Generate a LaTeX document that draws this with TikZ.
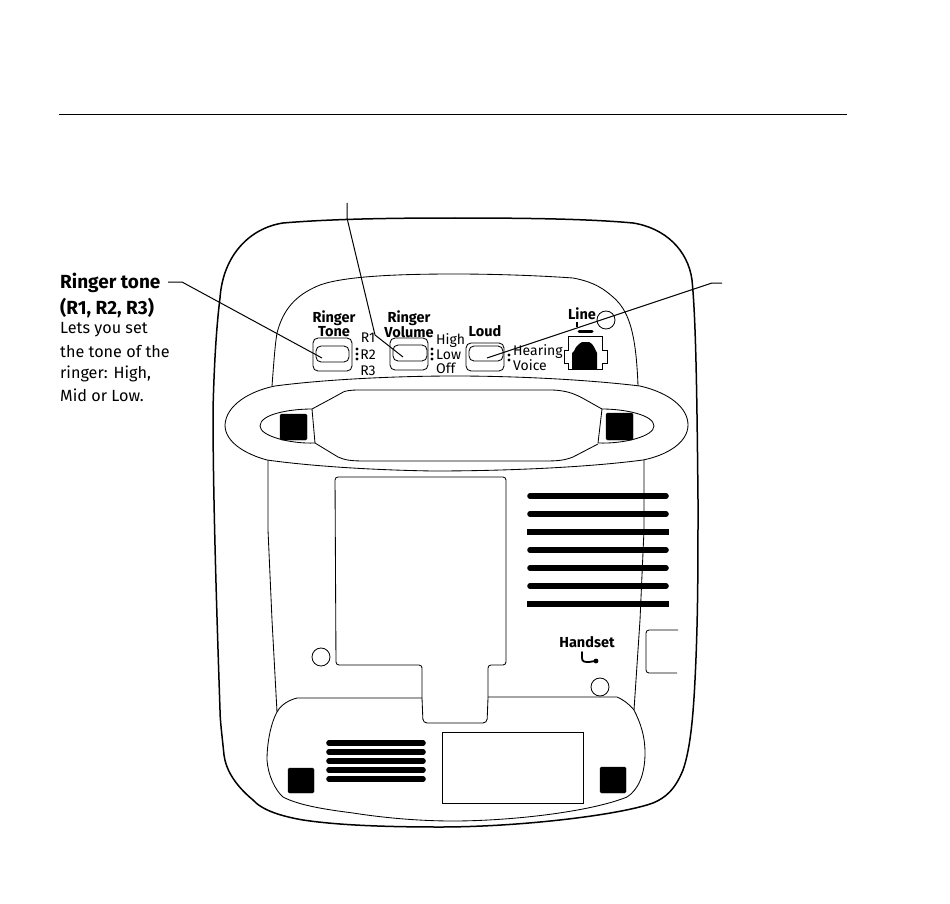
\documentclass[tikz,border=0pt]{standalone}
\usepackage{fontspec}
\setmainfont{Fira Sans}
\begin{document}
\begin{tikzpicture}[x=1pt,y=-1pt,
  ln/.style={line width=0.85pt,black},
  heavy/.style={line width=1.5pt,black},
  bar/.style={line width=5.6pt,black},
  foot/.style={fill=black,rounded corners=1.5pt},
  lab/.style={font=\fontsize{14}{14}\selectfont,inner sep=0pt,align=center},
  blab/.style={font=\fontsize{14.5}{14}\bfseries\selectfont,inner sep=0pt,align=center},
  lead/.style={line width=1pt,black}]
\useasboundingbox (0,0) rectangle (950,904);
\draw[line width=0.8pt] (59,114) -- (847,114);
% body
\draw[heavy] (455,218) .. controls (530,218) and (590,219) .. (633,223) .. controls (665,228) and (688,250) .. (692,280) .. controls (696,320) and (697,400) .. (698,500) .. controls (698,570) and (698,620) .. (695,680) .. controls (693,720) and (690,750) .. (683,770) .. controls (675,790) and (665,798) .. (653,803) .. controls (620,815) and (520,827) .. (440,827) .. controls (370,827) and (330,824) .. (303,820) .. controls (280,816) and (262,810) .. (253,800) .. controls (235,785) and (226,770) .. (224,755) .. controls (222,735) and (220,720) .. (220,710) .. controls (217,620) and (213,500) .. (213,410) .. controls (214,370) and (216,330) .. (220,298) .. controls (223,255) and (250,228) .. (283,223) .. controls (330,219) and (390,218) .. (455,218) -- cycle;
% upper panel
\draw[ln] (272,386) .. controls (274,360) and (275,345) .. (277,333) .. controls (283,310) and (295,295) .. (320,285) .. controls (345,276) and (400,274) .. (455,274) .. controls (500,274) and (545,276) .. (573,278) .. controls (595,282) and (605,290) .. (613,297) .. controls (628,310) and (636,330) .. (638,386);
% handle outer
\draw[ln] (225,425) .. controls (226,405) and (250,391) .. (275,386) .. controls (320,380) and (390,376) .. (455,376) .. controls (520,376) and (590,380) .. (640,386) .. controls (670,393) and (688,408) .. (688,425) .. controls (688,442) and (668,455) .. (643,460) .. controls (590,467) and (510,471) .. (433,471) .. controls (370,470) and (310,466) .. (267,460) .. controls (245,454) and (225,442) .. (225,425) -- cycle;
% handle inner
\draw[ln,rounded corners=6pt] (312,409) -- (338,395) .. controls (345,391) and (350,390) .. (365,390) -- (545,390) .. controls (560,390) and (568,392) .. (577,395) -- (602,409);
\draw[ln] (315,443) -- (338,457) .. controls (345,460) and (350,461) .. (365,461) -- (545,461) .. controls (560,461) and (565,460) .. (573,457) -- (598,444);
\draw[ln] (312,409) -- (315,443);
\draw[ln] (312,409) .. controls (290,409) and (260,414) .. (260,426) .. controls (260,436) and (290,444) .. (315,443);
\draw[ln] (602,409) -- (598,443);
\draw[ln] (602,409) .. controls (625,409) and (654,415) .. (654,426) .. controls (654,436) and (625,444) .. (598,443);
\draw[foot] (280,414) rectangle (307,440);
\draw[foot] (606,413) rectangle (633,440);
% side lines of rear section
\draw[ln] (268,460) -- (268,530) -- (272,620) -- (277,712);
\draw[ln] (644,460) -- (644,530) -- (640,620) -- (634,710);
% battery cover
\draw[ln,rounded corners=3pt] (422,698) -- (422,665) -- (336,665) -- (335,477) -- (506,477) -- (506,665) -- (488,665) -- (488,698);
\draw[ln,rounded corners=4pt] (422,698) -- (423,723) -- (487,723) -- (488,698);
% speaker bars
\foreach \yy in {496,514,550,568,586} {
  \draw[bar,line cap=round] (530,\yy) -- (666,\yy);
}
\foreach \yy in {532,604} {
  \draw[bar] (527,\yy) -- (669,\yy);
}
% lower panel
\draw[ln] (422,698) -- (297,698) .. controls (285,701) and (279,708) .. (277,712) .. controls (270,725) and (267,745) .. (267,760) .. controls (268,775) and (275,790) .. (283,797) .. controls (300,806) and (330,810) .. (353,813) .. controls (385,818) and (420,821) .. (453,821) .. controls (510,821) and (590,812) .. (627,797) .. controls (638,790) and (645,775) .. (645,753) .. controls (645,735) and (640,722) .. (634,710) .. controls (628,703) and (622,699) .. (617,697) -- (488,697);
\foreach \yy in {743,752,761,770,779} {
  \draw[bar,line cap=round] (329,\yy) -- (423,\yy);
}
\draw[ln] (442,732) rectangle (583,803);
\draw[foot] (288,768) rectangle (314,793);
\draw[foot] (600,767) rectangle (626,793);
% screws
\draw[ln] (321,657) circle (9);
\draw[ln] (600,687) circle (9);
\draw[ln] (606,320) circle (9);
% side socket
\draw[ln,rounded corners=3pt] (678,630) -- (646,630) -- (646,673) -- (677,673);
% switches
\draw[ln,rounded corners=5pt] (313,338) rectangle (352,371);
\draw[ln,rounded corners=5pt] (316,346) rectangle (349,362);
\draw[ln,rounded corners=5pt] (390,338) rectangle (428,370);
\draw[ln,rounded corners=5pt] (393,345) rectangle (427,361);
\draw[ln,rounded corners=5pt] (466,343) rectangle (504,371);
\draw[ln,rounded corners=5pt] (469,346) rectangle (503,361);
% position dots
\foreach \xx/\yy in {357/349,357/354,357/359,432/349,432/354,432/359,509/355,509/360} {
  \fill (\xx,\yy) circle (1.6);
}
% jack
\draw[ln] (568,369) -- (568,363) -- (564,363) -- (564,350) -- (568,350) -- (568,336) -- (602,336) -- (602,350) -- (607,350) -- (607,363) -- (602,363) -- (602,369) -- cycle;
\fill (572,369) -- (572,353) -- (574,351) -- (576,347) -- (579,344) -- (582,342) -- (589,342) -- (592,344) -- (594,347) -- (596,351) -- (597,353) -- (597,369) -- cycle;
% little cord marks
\draw[line width=1.6pt] (577,322) -- (577,327);
\draw[line width=3pt,line cap=round] (579,331) -- (592,331);
\draw[line width=1.8pt,line cap=round] (582,652) -- (582,658) .. controls (582,662) and (585,662) .. (589,662) -- (595,661);
\fill (596,661) circle (2.4);
% labels on device
\node[blab] (rtt) at (334,318) {Ringer};
\node[blab] (rtb) at (334,332) {Tone};
\node[blab] (rvt) at (409,318) {Ringer};
\node[blab] (rvb) at (409,332) {Volume};
\node[blab] (ld) at (485,331) {Loud};
\node[blab] (li) at (582,314) {Line};
\node[blab] (hs) at (587,642) {Handset};
\node[lab] (r1) at (368,338) {R1};
\node[lab] (r2) at (368,355) {R2};
\node[lab] (r3) at (368,371) {R3};
\node[lab,anchor=west] (hi) at (436,341) {High};
\node[lab,anchor=west] (lo) at (436,355) {Low};
\node[lab,anchor=west] (of) at (436,368) {Off};
\node[lab,anchor=west] (he) at (513,352) {Hearing};
\node[lab,anchor=west] (vo) at (513,365) {Voice};
% left caption
\node[inner sep=0pt,anchor=west,font=\fontsize{19}{19}\bfseries\selectfont] (c1) at (60,283) {Ringer tone};
\node[inner sep=0pt,anchor=west,font=\fontsize{19}{19}\bfseries\selectfont] (c2) at (60,308) {(R1, R2, R3)};
\node[inner sep=0pt,anchor=west,font=\fontsize{16.2}{16}\selectfont] (c3) at (60,330) {Lets you set};
\node[inner sep=0pt,anchor=west,font=\fontsize{16.2}{16}\selectfont] (c4) at (60,352) {the tone of the};
\node[inner sep=0pt,anchor=west,font=\fontsize{16.2}{16}\selectfont] (c5) at (60,374) {ringer: High,};
\node[inner sep=0pt,anchor=west,font=\fontsize{16.2}{16}\selectfont] (c6) at (60,395) {Mid or Low.};
% leaders
\coordinate (t1) at (347,203);
\coordinate (t1a) at (347,218);
\coordinate (t1b) at (375,335);
\coordinate (t1c) at (403,357);
\coordinate (t2) at (722,283);
\coordinate (t2b) at (712,283);
\coordinate (t2c) at (487,358);
\coordinate (t3) at (322,358);
\coordinate (t3b) at (182,282);
\coordinate (t3c) at (168,282);
\draw[lead] (t1) -- (t1a) -- (t1b) -- (t1c);
\draw[lead] (t2) -- (t2b) -- (t2c);
\draw[lead] (t3c) -- (t3b) -- (t3);
\end{tikzpicture}
\end{document}
